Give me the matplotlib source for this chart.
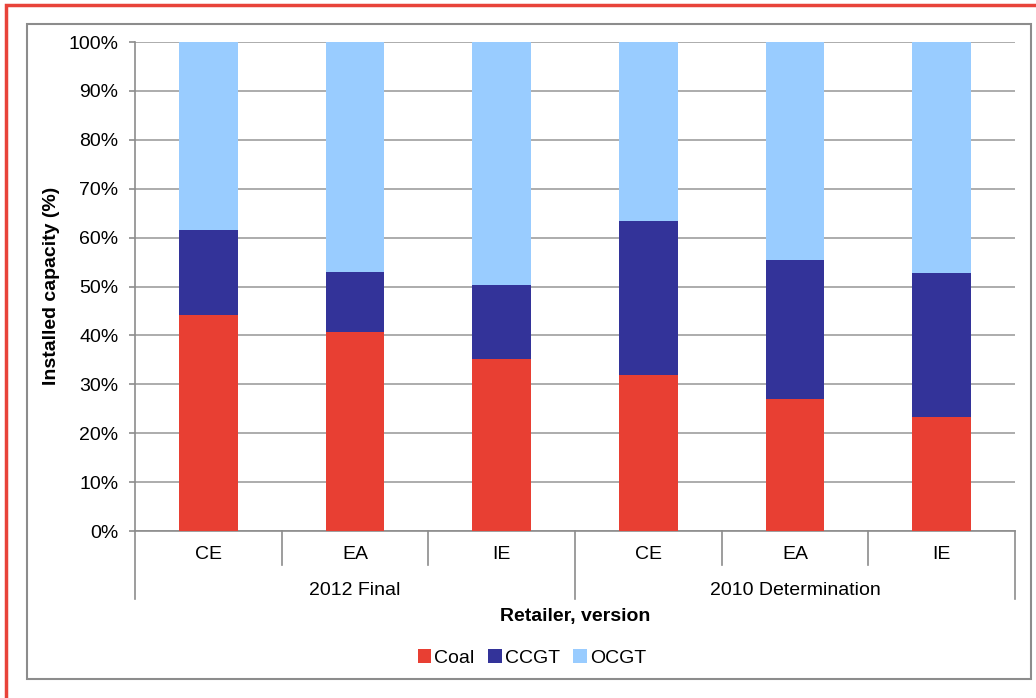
import matplotlib
matplotlib.use('Agg')

import matplotlib.pyplot as plt
from matplotlib.patches import Rectangle
import numpy as np

plt.rcParams['font.family'] = ['Liberation Sans', 'DejaVu Sans']

# data (percent of installed capacity)
retailers = ['CE', 'EA', 'IE', 'CE', 'EA', 'IE']
versions = ['2012 Final', '2010 Determination']
coal = [44.2, 40.6, 35.1, 32.0, 27.0, 23.3]
ccgt = [17.4, 12.4, 15.3, 31.4, 28.4, 29.5]
ocgt = [38.4, 47.0, 49.6, 36.6, 44.6, 47.2]
yticks = [0, 10, 20, 30, 40, 50, 60, 70, 80, 90, 100]

FS = 14

fig = plt.figure(figsize=(10.36, 6.98), dpi=100)
ax = fig.add_axes([135 / 1036, 1 - 531 / 698, 880 / 1036, 489 / 698])

x = np.arange(len(retailers))
w = 0.4
ax.bar(x, coal, w, color='#E83F33', label='Coal', zorder=3)
ax.bar(x, ccgt, w, bottom=coal, color='#333399', label='CCGT', zorder=3)
bottom2 = np.array(coal) + np.array(ccgt)
ax.bar(x, ocgt, w, bottom=bottom2, color='#99CCFF', label='OCGT', zorder=3)

ax.set_xlim(-0.5, len(retailers) - 0.5)
ax.set_ylim(0, 100)
ax.set_yticks(yticks)
ax.set_yticklabels([f'{t}%' for t in yticks])
ax.tick_params(axis='y', length=4, width=1.2, color='#8c8c8c', pad=8, labelsize=FS)
ax.yaxis.grid(True, color='#a6a6a6', linewidth=1.3, zorder=0)
ax.set_axisbelow(True)

for s in ['top', 'right']:
    ax.spines[s].set_visible(False)
for s in ['left', 'bottom']:
    ax.spines[s].set_color('#8c8c8c')
    ax.spines[s].set_linewidth(1.2)

# two-level category axis
ax.set_xticks([])
tr = ax.get_xaxis_transform()
for xi, lab in zip(x, retailers):
    ax.text(xi, -0.049, lab, transform=tr, ha='center', va='center', fontsize=FS)
for b in np.arange(-0.5, len(retailers), 1.0):
    depth = -0.139 if b in (-0.5, 2.5, 5.5) else -0.0695
    ax.plot([b, b], [0, depth], transform=tr, color='#8c8c8c', lw=1.2, clip_on=False)
for gi, v in enumerate(versions):
    ax.text(gi * 3 + 1, -0.1207, v, transform=tr, ha='center', va='center', fontsize=FS)

ax.text(0.5, -0.174, 'Retailer, version', transform=ax.transAxes, ha='center',
        va='center', fontsize=FS, fontweight='bold')
fig.text(52 / 1036, 1 - 286 / 698, 'Installed capacity (%)', rotation=90,
         ha='center', va='center', fontsize=FS, fontweight='bold')

fig.legend(loc='center', bbox_to_anchor=(532 / 1036, 1 - 658 / 698), ncol=3,
           frameon=False, fontsize=FS, handlelength=0.7, handleheight=0.7,
           handletextpad=0.15, columnspacing=0.7)

# chart frame and red outer border
fig.add_artist(Rectangle((26.5 / 1036, 1 - 679 / 698), 1004.5 / 1036, 655 / 698,
                         transform=fig.transFigure, fill=False,
                         edgecolor='#8c8c8c', lw=1.5))
fig.add_artist(Rectangle((6 / 1036, -0.05), 1.1, 1.05 - 5 / 698,
                         transform=fig.transFigure, fill=False,
                         edgecolor='#E8433A', lw=2.5))

fig.savefig('out.png', dpi=100)
